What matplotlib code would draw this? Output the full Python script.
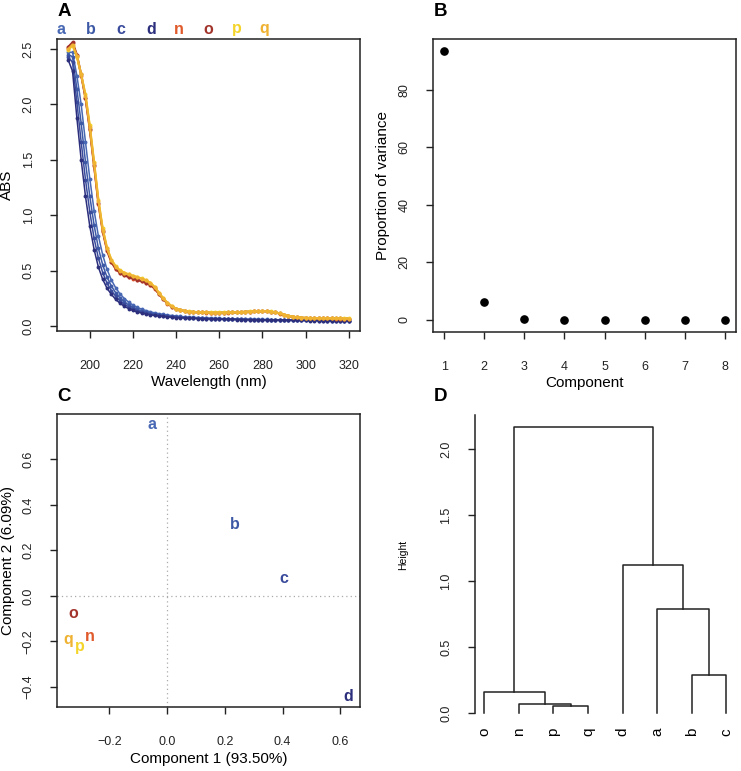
import matplotlib
matplotlib.use('Agg')
import matplotlib.pyplot as plt

plt.rcParams['font.family'] = ['Liberation Sans', 'DejaVu Sans']

# Panel A - UV spectra, 190..320 nm every 2 nm
wavelength = list(range(190, 322, 2))

abs_a = [2.47, 2.47, 2.26, 2.00, 1.66, 1.33, 1.04, 0.81, 0.64, 0.51, 0.415, 0.345, 0.29, 0.248, 0.215, 0.189,
         0.168, 0.152, 0.139, 0.128, 0.119, 0.111, 0.105, 0.099, 0.094, 0.090, 0.086, 0.083, 0.080, 0.078,
         0.076, 0.074, 0.072, 0.071, 0.069, 0.068, 0.067, 0.066, 0.065, 0.064, 0.063, 0.062, 0.061, 0.061,
         0.060, 0.059, 0.059, 0.058, 0.057, 0.057, 0.056, 0.056, 0.055, 0.055, 0.054, 0.054, 0.053, 0.053,
         0.052, 0.052, 0.051, 0.051, 0.050, 0.050, 0.049, 0.049]
abs_b = [2.45, 2.43, 2.14, 1.83, 1.48, 1.17, 0.91, 0.70, 0.55, 0.44, 0.36, 0.30, 0.254, 0.218, 0.190, 0.168,
         0.150, 0.137, 0.126, 0.117, 0.109, 0.102, 0.097, 0.092, 0.088, 0.084, 0.081, 0.078, 0.076, 0.074,
         0.072, 0.070, 0.069, 0.067, 0.066, 0.065, 0.064, 0.063, 0.062, 0.061, 0.060, 0.060, 0.059, 0.058,
         0.058, 0.057, 0.056, 0.056, 0.055, 0.055, 0.054, 0.054, 0.053, 0.053, 0.052, 0.052, 0.051, 0.051,
         0.050, 0.050, 0.049, 0.049, 0.048, 0.048, 0.047, 0.047]
abs_c = [2.43, 2.38, 2.02, 1.66, 1.32, 1.03, 0.79, 0.61, 0.48, 0.385, 0.32, 0.268, 0.228, 0.197, 0.173, 0.154,
         0.139, 0.127, 0.117, 0.109, 0.102, 0.096, 0.091, 0.087, 0.083, 0.080, 0.077, 0.075, 0.073, 0.071,
         0.069, 0.068, 0.067, 0.065, 0.064, 0.063, 0.062, 0.061, 0.060, 0.060, 0.059, 0.058, 0.058, 0.057,
         0.056, 0.056, 0.055, 0.055, 0.054, 0.054, 0.053, 0.053, 0.052, 0.052, 0.051, 0.051, 0.050, 0.050,
         0.049, 0.049, 0.048, 0.048, 0.047, 0.047, 0.046, 0.046]
abs_d = [2.40, 2.30, 1.88, 1.50, 1.17, 0.90, 0.69, 0.53, 0.42, 0.34, 0.285, 0.24, 0.205, 0.178, 0.157, 0.140,
         0.127, 0.117, 0.108, 0.101, 0.095, 0.090, 0.086, 0.082, 0.079, 0.076, 0.074, 0.072, 0.070, 0.068,
         0.067, 0.066, 0.065, 0.064, 0.063, 0.062, 0.061, 0.060, 0.059, 0.058, 0.058, 0.057, 0.056, 0.056,
         0.055, 0.055, 0.054, 0.054, 0.053, 0.053, 0.052, 0.052, 0.051, 0.051, 0.050, 0.050, 0.049, 0.049,
         0.048, 0.048, 0.047, 0.047, 0.046, 0.046, 0.045, 0.045]
abs_n = [2.51, 2.55, 2.44, 2.26, 2.06, 1.77, 1.44, 1.10, 0.85, 0.68, 0.575, 0.515, 0.478, 0.457, 0.442, 0.428,
         0.416, 0.403, 0.390, 0.371, 0.338, 0.290, 0.243, 0.203, 0.174, 0.155, 0.143, 0.135, 0.129, 0.126,
         0.124, 0.122, 0.121, 0.120, 0.120, 0.120, 0.120, 0.121, 0.122, 0.123, 0.125, 0.127, 0.129, 0.131,
         0.133, 0.134, 0.133, 0.129, 0.122, 0.112, 0.101, 0.091, 0.083, 0.078, 0.074, 0.072, 0.071, 0.070,
         0.069, 0.069, 0.068, 0.068, 0.067, 0.067, 0.066, 0.066]
abs_o = [2.52, 2.56, 2.45, 2.27, 2.06, 1.78, 1.45, 1.11, 0.86, 0.685, 0.58, 0.518, 0.480, 0.459, 0.444, 0.430,
         0.418, 0.405, 0.392, 0.373, 0.340, 0.292, 0.245, 0.205, 0.175, 0.156, 0.144, 0.136, 0.130, 0.127,
         0.125, 0.123, 0.122, 0.121, 0.121, 0.121, 0.121, 0.122, 0.123, 0.124, 0.126, 0.128, 0.130, 0.132,
         0.134, 0.135, 0.134, 0.130, 0.123, 0.113, 0.102, 0.092, 0.084, 0.079, 0.075, 0.073, 0.072, 0.071,
         0.070, 0.070, 0.069, 0.069, 0.068, 0.068, 0.067, 0.067]
abs_p = [2.49, 2.53, 2.43, 2.27, 2.09, 1.81, 1.48, 1.14, 0.88, 0.705, 0.60, 0.54, 0.503, 0.482, 0.467, 0.454,
         0.442, 0.429, 0.414, 0.392, 0.354, 0.302, 0.252, 0.210, 0.178, 0.158, 0.145, 0.137, 0.131, 0.128,
         0.126, 0.124, 0.123, 0.122, 0.122, 0.122, 0.122, 0.123, 0.124, 0.125, 0.127, 0.129, 0.131, 0.133,
         0.135, 0.136, 0.135, 0.131, 0.124, 0.114, 0.103, 0.093, 0.085, 0.080, 0.076, 0.074, 0.073, 0.072,
         0.071, 0.071, 0.070, 0.070, 0.069, 0.069, 0.068, 0.068]
abs_q = [2.50, 2.54, 2.44, 2.27, 2.08, 1.80, 1.47, 1.13, 0.87, 0.70, 0.595, 0.535, 0.500, 0.480, 0.465, 0.452,
         0.440, 0.427, 0.412, 0.390, 0.352, 0.300, 0.250, 0.208, 0.177, 0.157, 0.144, 0.136, 0.130, 0.127,
         0.125, 0.123, 0.122, 0.121, 0.121, 0.121, 0.121, 0.122, 0.123, 0.124, 0.126, 0.128, 0.130, 0.132,
         0.134, 0.135, 0.134, 0.130, 0.123, 0.113, 0.102, 0.092, 0.084, 0.079, 0.075, 0.073, 0.072, 0.071,
         0.070, 0.070, 0.069, 0.069, 0.068, 0.068, 0.067, 0.067]

samples = ['a', 'b', 'c', 'd', 'n', 'o', 'p', 'q']
spectra = [abs_a, abs_b, abs_c, abs_d, abs_n, abs_o, abs_p, abs_q]
colors = {'a': '#4868b4', 'b': '#3d59a6', 'c': '#3a4b9c', 'd': '#2c2f7c',
          'n': '#e05a2c', 'o': '#a2342c', 'p': '#f4d42a', 'q': '#efb232'}

# Panel B - scree
components = [1, 2, 3, 4, 5, 6, 7, 8]
prop_variance = [93.5, 6.09, 0.3, 0.04, 0.02, 0.01, 0.006, 0.003]

# Panel C - PCA scores
pc1 = {'a': -0.052, 'b': 0.235, 'c': 0.405, 'd': 0.627,
       'n': -0.266, 'o': -0.325, 'p': -0.301, 'q': -0.342}
pc2 = {'a': 0.752, 'b': 0.316, 'c': 0.079, 'd': -0.44,
       'n': -0.18, 'o': -0.075, 'p': -0.224, 'q': -0.193}

# Panel D - hierarchical clustering (R hclust style merges)
leaf_order = ['o', 'n', 'p', 'q', 'd', 'a', 'b', 'c']
merges = [(-3, -4, 0.053), (-2, 1, 0.068), (-1, 2, 0.157), (-7, -8, 0.288),
          (-6, 4, 0.786), (-5, 5, 1.121), (3, 6, 2.169)]

W, H = 741, 771
fig = plt.figure(figsize=(W / 100, H / 100), dpi=100)


def box(x0, y0, x1, y1):
    return [x0 / W, 1 - y1 / H, (x1 - x0) / W, (y1 - y0) / H]


def style(ax, xpad=16, ypad=11):
    for s in ax.spines.values():
        s.set_color('#222222')
        s.set_linewidth(1.1)
    ax.tick_params(direction='out', length=5, width=1, color='#222222', labelsize=9, labelcolor='#222222')
    ax.tick_params(axis='x', pad=xpad)
    ax.tick_params(axis='y', pad=ypad, labelrotation=90)
    for lab in ax.get_yticklabels():
        lab.set_va('center')


def panel_letter(px, py, s):
    fig.text(px / W, 1 - py / H, s, fontsize=13.5, fontweight='bold', ha='center', va='center')


# ---- A
axA = fig.add_axes(box(57, 39, 360, 331))
for name, vals in zip(samples, spectra):
    lw = 1.5 if name in 'nopq' else 1.1
    axA.plot(wavelength, vals, '-o', color=colors[name], lw=lw, ms=2.8, mew=0)
axA.set_xlim(184.8, 325.2)
axA.set_ylim(-0.045, 2.59)
axA.set_xticks([200, 220, 240, 260, 280, 300, 320])
axA.set_yticks([0.0, 0.5, 1.0, 1.5, 2.0, 2.5])
style(axA)
axA.set_xlabel('Wavelength (nm)', fontsize=11, va='center')
axA.xaxis.set_label_coords(0.5, -(382 - 331) / 292)
axA.set_ylabel('ABS', fontsize=11, va='center')
axA.yaxis.set_label_coords(-(57 - 7) / 303, 0.5)
panel_letter(64.5, 12, 'A')
letter_x = [61, 91, 121, 151, 179, 208, 237, 264]
for name, lx in zip(samples, letter_x):
    fig.text(lx / W, 1 - 29 / H, name, color=colors[name], fontsize=11.5, fontweight='bold',
             ha='center', va='center')

# ---- B
axB = fig.add_axes(box(433, 39, 736, 332))
axB.plot(components, prop_variance, 'o', color='black', ms=5.2)
axB.set_xlim(0.72, 8.28)
axB.set_ylim(-4.2, 97.7)
axB.set_xticks(components)
axB.set_yticks([0, 20, 40, 60, 80])
style(axB)
axB.set_xlabel('Component', fontsize=11, va='center')
axB.xaxis.set_label_coords(0.5, -(383 - 332) / 293)
axB.set_ylabel('Proportion of variance', fontsize=11, va='center')
axB.yaxis.set_label_coords(-(433 - 383) / 303, 0.5)
panel_letter(440, 12, 'B')

# ---- C
axC = fig.add_axes(box(57, 414, 360, 707))
axC.axvline(0, color='#aaaaaa', lw=0.9, ls=(0, (1, 2.5)))
axC.axhline(0, color='#aaaaaa', lw=0.9, ls=(0, (1, 2.5)))
for name in samples:
    axC.text(pc1[name], pc2[name], name, color=colors[name], fontsize=11.5, fontweight='bold',
             ha='center', va='center')
axC.set_xlim(-0.381, 0.668)
axC.set_ylim(-0.488, 0.80)
axC.set_xticks([-0.2, 0.0, 0.2, 0.4, 0.6])
axC.set_yticks([-0.4, -0.2, 0.0, 0.2, 0.4, 0.6])
style(axC)
axC.set_xlabel('Component 1 (93.50%)', fontsize=11, va='center')
axC.xaxis.set_label_coords(0.5, -(759 - 707) / 293)
axC.set_ylabel('Component 2 (6.09%)', fontsize=11, va='center')
axC.yaxis.set_label_coords(-(57 - 8) / 303, 0.5)
panel_letter(64, 397, 'C')

# ---- D
axD = fig.add_axes(box(474.5, 415, 736, 724.5))
nodes = []
for left, right, h in merges:
    pts = []
    for k in (left, right):
        if k < 0:
            pts.append((-k, 0.0))
        else:
            pts.append(nodes[k - 1])
    (x1, y1), (x2, y2) = pts
    axD.plot([x1, x1, x2, x2], [y1, h, h, y2], color='#222222', lw=1.1)
    nodes.append(((x1 + x2) / 2, h))
for i, name in enumerate(leaf_order):
    axD.text(i + 1, -0.144, name, rotation=90, fontsize=11, ha='center', va='center', clip_on=False)
axD.set_xlim(0.72, 8.28)
axD.set_ylim(-0.087, 2.26)
axD.set_xticks([])
axD.set_yticks([0.0, 0.5, 1.0, 1.5, 2.0])
style(axD)
for s in ['top', 'right', 'bottom']:
    axD.spines[s].set_visible(False)
axD.spines['left'].set_bounds(0, 2.26)
axD.set_ylabel('Height', fontsize=7.5, va='center')
axD.yaxis.set_label_coords(-(474.5 - 403) / 261.5, (724.5 - 555) / 309.5)
panel_letter(440, 397, 'D')

fig.savefig('out.png', dpi=100)
